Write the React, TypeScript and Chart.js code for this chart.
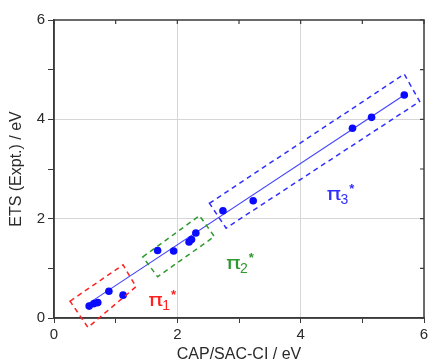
import { useEffect, useRef } from "react";
import { Chart, registerables } from "chart.js";

Chart.register(...registerables);

// Data
const CAP_SAC_CI = [0.57, 0.65, 0.71, 0.89, 1.12, 1.68, 1.94, 2.19, 2.23, 2.30, 2.74, 3.23, 4.84, 5.15, 5.68];
const ETS_EXPT = [0.24, 0.29, 0.31, 0.54, 0.46, 1.36, 1.35, 1.53, 1.58, 1.71, 2.16, 2.36, 3.82, 4.04, 4.49];
const FIT_X = [0.53, 5.68];
const FIT_Y = [0.27, 4.49];

// Dashed group boxes (corners, data units)
const BOX_PI1_X = [0.26, 1.12, 1.33, 0.55];
const BOX_PI1_Y = [0.34, 1.07, 0.63, -0.19];
const BOX_PI2_X = [1.44, 2.36, 2.60, 1.68];
const BOX_PI2_Y = [1.23, 2.06, 1.64, 0.83];
const BOX_PI3_X = [2.52, 5.68, 5.93, 2.79];
const BOX_PI3_Y = [2.31, 4.91, 4.36, 1.81];

const GROUP_SUBS = ["1", "2", "3"];
const GROUP_LABEL_X = [1.53, 2.79, 4.42];
const GROUP_LABEL_Y = [0.24, 0.99, 2.37];
const GROUP_COLORS = ["#ff2020", "#2e9a2e", "#2f2fff"];

const X_TITLE = "CAP/SAC-CI / eV";
const Y_TITLE = "ETS (Expt.) / eV";
const AXIS_MIN = 0;
const AXIS_MAX = 6;

const FONT = "'Liberation Sans', Arial, sans-serif";

const overlay = {
  id: "overlay",
  afterDraw(chart: any) {
    const { ctx, chartArea: a } = chart;
    const x = chart.scales.x;
    const y = chart.scales.y;
    ctx.save();
    // frame
    ctx.strokeStyle = "#3a3a3a";
    ctx.lineWidth = 1.5;
    ctx.strokeRect(a.left, a.top, a.right - a.left, a.bottom - a.top);
    // inward ticks on top & right
    ctx.beginPath();
    for (let v = AXIS_MIN; v <= AXIS_MAX; v++) {
      const px = x.getPixelForValue(v);
      ctx.moveTo(px, a.top);
      ctx.lineTo(px, a.top + 4);
      const py = y.getPixelForValue(v);
      ctx.moveTo(a.right, py);
      ctx.lineTo(a.right - 4, py);
    }
    ctx.lineWidth = 1.2;
    ctx.stroke();

    // dashed boxes
    const boxes = [
      [BOX_PI1_X, BOX_PI1_Y],
      [BOX_PI2_X, BOX_PI2_Y],
      [BOX_PI3_X, BOX_PI3_Y],
    ];
    ctx.setLineDash([5, 4]);
    ctx.lineWidth = 1.5;
    boxes.forEach(([bx, by], i) => {
      ctx.strokeStyle = GROUP_COLORS[i];
      ctx.beginPath();
      bx.forEach((vx, k) => {
        const px = x.getPixelForValue(vx);
        const py = y.getPixelForValue(by[k]);
        if (k === 0) ctx.moveTo(px, py);
        else ctx.lineTo(px, py);
      });
      ctx.closePath();
      ctx.stroke();
    });
    ctx.setLineDash([]);

    // group labels π_n*
    GROUP_SUBS.forEach((sub, i) => {
      const px = x.getPixelForValue(GROUP_LABEL_X[i]);
      const py = y.getPixelForValue(GROUP_LABEL_Y[i]);
      ctx.fillStyle = GROUP_COLORS[i];
      ctx.textBaseline = "alphabetic";
      ctx.textAlign = "left";
      ctx.font = `17px 'DejaVu Sans', sans-serif`;
      const w = ctx.measureText("π").width * 1.45;
      ctx.save();
      ctx.translate(px, py);
      ctx.scale(1.45, 1);
      ctx.fillText("π", 0, 0);
      ctx.restore();
      ctx.font = `14px ${FONT}`;
      ctx.fillText(sub, px + w - 1, py + 4);
      const w2 = ctx.measureText(sub).width;
      ctx.font = `bold 13px ${FONT}`;
      ctx.fillText("*", px + w + w2, py - 7);
    });
    ctx.restore();
  },
};

export default function App() {
  const ref = useRef<HTMLCanvasElement | null>(null);
  useEffect(() => {
    document.body.style.margin = "0";
    const canvas = ref.current;
    if (!canvas) return;
    const gridColor = (c: any) =>
      c.tick && (c.tick.value === 2 || c.tick.value === 4) ? "#d6d6d6" : "rgba(0,0,0,0)";
    const chart = new Chart(canvas, {
      type: "scatter",
      data: {
        datasets: [
          {
            data: CAP_SAC_CI.map((v, i) => ({ x: v, y: ETS_EXPT[i] })),
            backgroundColor: "#0a0aff",
            borderColor: "#0a0aff",
            pointRadius: 3.8,
            pointBorderWidth: 0,
          },
          {
            type: "line",
            data: FIT_X.map((v, i) => ({ x: v, y: FIT_Y[i] })),
            borderColor: "#4040ff",
            borderWidth: 1.1,
            pointRadius: 0,
            showLine: true,
            fill: false,
          } as any,
        ],
      },
      options: {
        animation: false,
        responsive: false,
        maintainAspectRatio: false,
        layout: { padding: { top: 20, right: 2, left: 0, bottom: 0 } },
        plugins: { legend: { display: false }, tooltip: { enabled: false } },
        scales: {
          x: {
            type: "linear",
            min: AXIS_MIN,
            max: AXIS_MAX,
            afterFit(s: any) {
              s.height = 45;
              s.paddingLeft = 0;
              s.paddingRight = 0;
            },
            ticks: {
              stepSize: 1,
              autoSkip: false,
              maxRotation: 0,
              padding: 3,
              color: "#2a2a2a",
              font: { family: FONT, size: 15 },
              callback: (v: any) => (Number(v) % 2 === 0 ? String(v) : ""),
            },
            grid: { color: gridColor, tickColor: "#3a3a3a", tickLength: 5, lineWidth: 1 },
            border: { display: true, color: "#3a3a3a", width: 1.5 },
            title: {
              display: true,
              text: X_TITLE,
              color: "#2a2a2a",
              font: { family: FONT, size: 16, lineHeight: 1 },
              padding: { top: 0, bottom: 0 },
            },
          },
          y: {
            type: "linear",
            min: AXIS_MIN,
            max: AXIS_MAX,
            afterFit(s: any) {
              s.width = 54;
              s.paddingTop = 0;
              s.paddingBottom = 0;
            },
            ticks: {
              stepSize: 1,
              autoSkip: false,
              padding: 3,
              color: "#2a2a2a",
              font: { family: FONT, size: 15 },
              callback: (v: any) => (Number(v) % 2 === 0 ? String(v) : ""),
            },
            grid: { color: gridColor, tickColor: "#3a3a3a", tickLength: 6, lineWidth: 1 },
            border: { display: true, color: "#3a3a3a", width: 1.5 },
            title: {
              display: true,
              text: Y_TITLE,
              color: "#2a2a2a",
              font: { family: FONT, size: 16, lineHeight: 1 },
              padding: { top: 9, bottom: 0 },
            },
          },
        },
      },
      plugins: [overlay],
    });
    return () => chart.destroy();
  }, []);
  return (
    <div style={{ width: 428, height: 363, background: "#fff" }}>
      <canvas ref={ref} width={428} height={363} style={{ display: "block" }} />
    </div>
  );
}
